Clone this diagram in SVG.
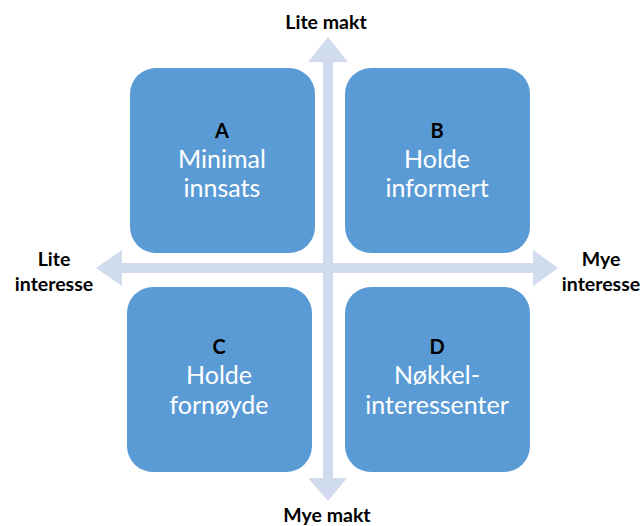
<svg xmlns="http://www.w3.org/2000/svg" width="643" height="526" viewBox="0 0 643 526">
  <style>
    .axis { fill: #D0DCEE; }
    .box { fill: #5B9BD5; }
    .key { font-family: Lato, "Liberation Sans", sans-serif; font-weight: bold; font-size: 20px; fill: #000; text-anchor: middle; }
    .lbl { font-family: Lato, "Liberation Sans", sans-serif; font-size: 25px; fill: #fff; text-anchor: middle; }
    .ax { font-family: Lato, "Liberation Sans", sans-serif; font-weight: bold; font-size: 19.5px; fill: #000; text-anchor: middle; }
  </style>
  <rect width="643" height="526" fill="#fff"/>

  <!-- axes: double-headed arrows -->
  <g id="connectors">
    <polygon class="axis" points="328,37 348,62 333,62 333,478 347,478 328,501 308,478 323,478 323,62 308,62"/>
    <polygon class="axis" points="96,268 122,250 122,263 533,263 533,250 558,268 533,286 533,273 122,273 122,286"/>
  </g>

  <g id="node-a">
    <rect class="box" x="130" y="68" width="185" height="185" rx="26"/>
    <text class="key" x="222" y="138">A</text>
    <text class="lbl" x="222" y="168">Minimal</text>
    <text class="lbl" x="222" y="197">innsats</text>
  </g>
  <g id="node-b">
    <rect class="box" x="345" y="68" width="185" height="185" rx="26"/>
    <text class="key" x="437" y="138">B</text>
    <text class="lbl" x="437" y="168">Holde</text>
    <text class="lbl" x="437" y="197">informert</text>
  </g>
  <g id="node-c">
    <rect class="box" x="127" y="287" width="185" height="185" rx="26"/>
    <text class="key" x="219" y="354">C</text>
    <text class="lbl" x="219" y="384">Holde</text>
    <text class="lbl" x="219" y="414">fornøyde</text>
  </g>
  <g id="node-d">
    <rect class="box" x="345" y="287" width="185" height="185" rx="26"/>
    <text class="key" x="437" y="354">D</text>
    <text class="lbl" x="437" y="384">Nøkkel-</text>
    <text class="lbl" x="437" y="414">interessenter</text>
  </g>

  <g id="axis-labels">
    <text class="ax" x="326" y="29">Lite makt</text>
    <text class="ax" x="327" y="522">Mye makt</text>
    <text class="ax" x="54" y="266">Lite</text>
    <text class="ax" x="54" y="291">interesse</text>
    <text class="ax" x="601" y="266">Mye</text>
    <text class="ax" x="601" y="291">interesse</text>
  </g>
</svg>
